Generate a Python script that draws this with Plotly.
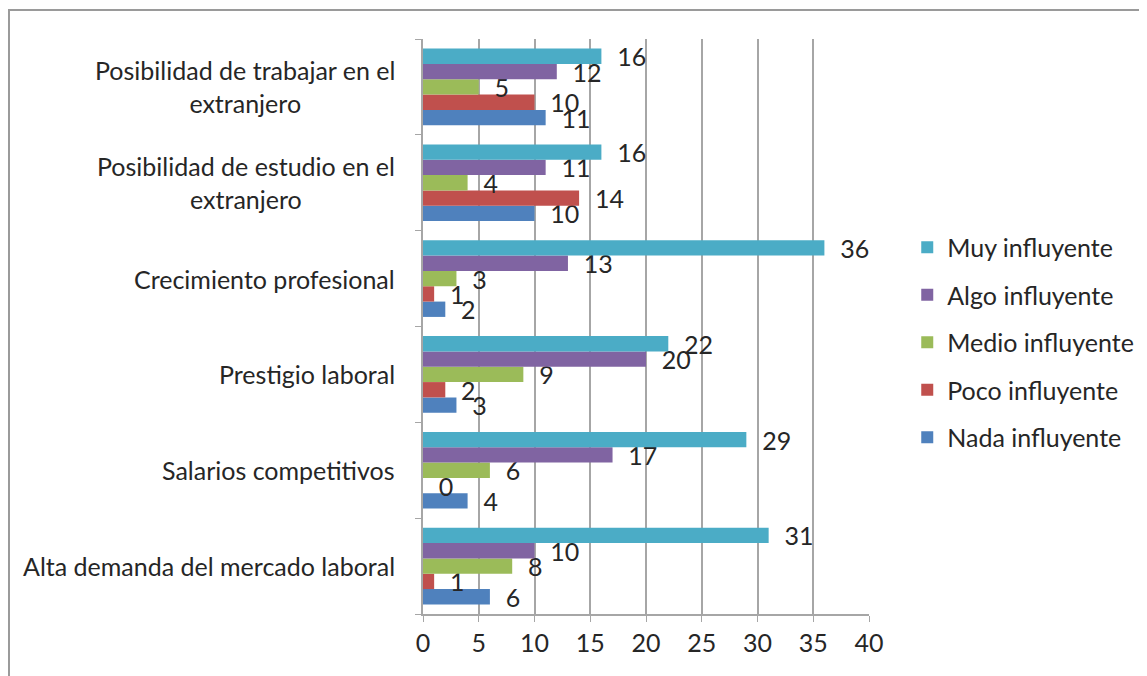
import plotly.graph_objects as go

categories = [
    "Alta demanda del mercado laboral",
    "Salarios competitivos",
    "Prestigio laboral",
    "Crecimiento profesional",
    "Posibilidad de estudio en el<br>extranjero",
    "Posibilidad de trabajar en el<br>extranjero",
]
series_names = ["Nada influyente", "Poco influyente", "Medio influyente", "Algo influyente", "Muy influyente"]
nada = [6, 4, 3, 2, 10, 11]
poco = [1, 0, 2, 1, 14, 10]
medio = [8, 6, 9, 3, 4, 5]
algo = [10, 17, 20, 13, 11, 12]
muy = [31, 29, 22, 36, 16, 16]
x_ticks = [0, 5, 10, 15, 20, 25, 30, 35, 40]

values = [nada, poco, medio, algo, muy]
colors = ["#4F81BD", "#C0504D", "#9BBB59", "#8064A2", "#4BACC6"]
FONT = "Lato, Open Sans, sans-serif"
TXT = "#262626"
FS = 25

fig = go.Figure()
for i, (name, vals, col) in enumerate(zip(series_names, values, colors)):
    fig.add_trace(go.Bar(
        y=categories, x=vals, name=name, orientation="h",
        marker=dict(color=col, line=dict(width=0)),
        text=[str(v) for v in vals], texttemplate="  %{text}",
        textposition="outside", constraintext="none", cliponaxis=False,
        textfont=dict(family=FONT, size=FS, color=TXT),
        legendgroup=name, legendrank=10 - i,
    ))

for c in categories:
    fig.add_annotation(
        x=-0.058, xref="paper", y=c, yref="y", text=c, showarrow=False,
        xanchor="right", yanchor="middle", align="center",
        font=dict(family=FONT, size=FS, color=TXT),
    )

fig.add_shape(type="rect", xref="paper", yref="paper",
              x0=-0.9283, x1=1.7, y0=-0.2, y1=1.0504,
              line=dict(color="#9A9A9A", width=2), fillcolor="rgba(0,0,0,0)", layer="above")

fig.update_layout(
    width=1147, height=676,
    margin=dict(l=415, r=286, t=31, b=70, autoexpand=False),
    paper_bgcolor="white", plot_bgcolor="white",
    barmode="group", bargap=0.2, bargroupgap=0.0,
    font=dict(family=FONT, size=FS, color=TXT),
    showlegend=True,
    legend=dict(xref="container", yref="container", x=0.784, y=0.505,
                xanchor="left", yanchor="middle",
                traceorder="grouped", tracegroupgap=12,
                font=dict(family=FONT, size=FS, color=TXT),
                itemwidth=30, bgcolor="rgba(0,0,0,0)"),
    xaxis=dict(range=[0, 40], tickvals=x_ticks, showgrid=True, gridcolor="#A6A6A6", gridwidth=1.5,
               zeroline=False, showline=True, linecolor="#A6A6A6", linewidth=1.5,
               ticks="outside", ticklen=6, tickcolor="#A6A6A6",
               tickfont=dict(family=FONT, size=FS, color=TXT)),
    yaxis=dict(showticklabels=False, showline=True, linecolor="#A6A6A6", linewidth=1.5,
               ticks="outside", tickson="boundaries", ticklen=6, tickcolor="#A6A6A6",
               showgrid=False, categoryorder="array", categoryarray=categories),
)

fig.write_html("out.html")
